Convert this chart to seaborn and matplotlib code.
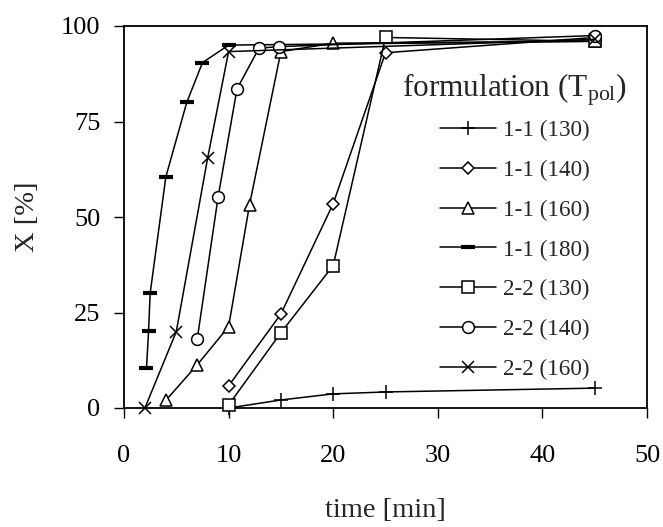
import matplotlib
matplotlib.use("Agg")
import matplotlib.pyplot as plt
import seaborn as sns
import pandas as pd

# Conversion X [%] vs. polymerisation time for each formulation / temperature
t_11_130 = [10, 15, 20, 25, 45]
x_11_130 = [0, 2.1, 3.7, 4.2, 5.2]

t_11_140 = [10, 15, 20, 25, 45]
x_11_140 = [5.8, 24.6, 53.5, 93.0, 97.0]

t_11_160 = [4, 7, 10, 12, 15, 20, 45]
x_11_160 = [2.0, 11.3, 21.3, 53.2, 93.3, 95.5, 96.0]

t_11_180 = [2.15, 2.35, 2.5, 4, 6, 7.5, 10, 45]
x_11_180 = [10.4, 20.2, 30.0, 60.5, 80.0, 90.4, 95.0, 96.0]

t_22_130 = [10, 15, 20, 25, 45]
x_22_130 = [0.8, 19.7, 37.3, 97.0, 96.0]

t_22_140 = [7, 9, 10.8, 12.9, 14.8, 45]
x_22_140 = [18.0, 55.3, 83.5, 94.2, 94.6, 97.5]

t_22_160 = [2, 5, 8, 10, 45]
x_22_160 = [0, 20.0, 65.5, 93.3, 96.5]

labels = ["1-1 (130)", "1-1 (140)", "1-1 (160)", "1-1 (180)",
          "2-2 (130)", "2-2 (140)", "2-2 (160)"]
times = [t_11_130, t_11_140, t_11_160, t_11_180, t_22_130, t_22_140, t_22_160]
convs = [x_11_130, x_11_140, x_11_160, x_11_180, x_22_130, x_22_140, x_22_160]

x_ticks = [0, 10, 20, 30, 40, 50]
y_ticks = [0, 25, 50, 75, 100]

# marker, size, edge width for each series
styles = {
    "1-1 (130)": ("+", 10, 1.1),
    "1-1 (140)": ("D", 6.5, 1.1),
    "1-1 (160)": ("^", 9, 1.1),
    "1-1 (180)": ("_", 10, 3.0),
    "2-2 (130)": ("s", 8, 1.1),
    "2-2 (140)": ("o", 8.5, 1.1),
    "2-2 (160)": ("x", 9, 1.1),
}

sns.set_theme(style="white")
plt.rcParams["font.family"] = ["Liberation Serif", "DejaVu Serif"]
plt.rcParams["mathtext.fontset"] = "custom"
plt.rcParams["mathtext.rm"] = "Liberation Serif"
plt.rcParams["mathtext.it"] = "Liberation Serif:italic"

fig = plt.figure(figsize=(6.63, 5.27), dpi=100)
ax = fig.add_axes([124 / 663, 1 - 408 / 527, (647 - 124) / 663, (408 - 26) / 527])

for lab, t, x in zip(labels, times, convs):
    df = pd.DataFrame({"time": t, "X": x})
    m, ms, mew = styles[lab]
    sns.lineplot(data=df, x="time", y="X", ax=ax, color="black",
                 estimator=None, sort=False, label=lab,
                 marker=m, markersize=ms, mew=mew, mec="black",
                 mfc="white", linewidth=1.1, clip_on=False, zorder=3)

ax.set_xlim(0, 50)
ax.set_ylim(0, 100)
ax.set_xticks(x_ticks)
ax.set_yticks(y_ticks)
ax.set_xlabel("time [min]", fontsize=20.5, labelpad=22)
ax.set_ylabel("X [%]", fontsize=20.5, labelpad=15)
ax.tick_params(axis="x", direction="out", length=7, width=1, pad=20,
               labelsize=19, colors="black", bottom=True)
ax.tick_params(axis="y", direction="out", length=7, width=1, pad=10,
               labelsize=19, colors="black", left=True)
for s in ax.spines.values():
    s.set_color("black")
    s.set_linewidth(1.3)
ax.grid(False)

leg = ax.legend(title=r"formulation (T$_{\mathrm{pol}}$)", frameon=False,
                fontsize=16.7, title_fontsize=22.5, loc="upper center",
                bbox_to_anchor=(0.747, 0.905), handlelength=2.4,
                handletextpad=0.3, labelspacing=0.8, borderaxespad=0)
# tighter gap between the legend title and the first entry
leg._legend_box.sep = 8.5

fig.savefig("out.png", dpi=100)
